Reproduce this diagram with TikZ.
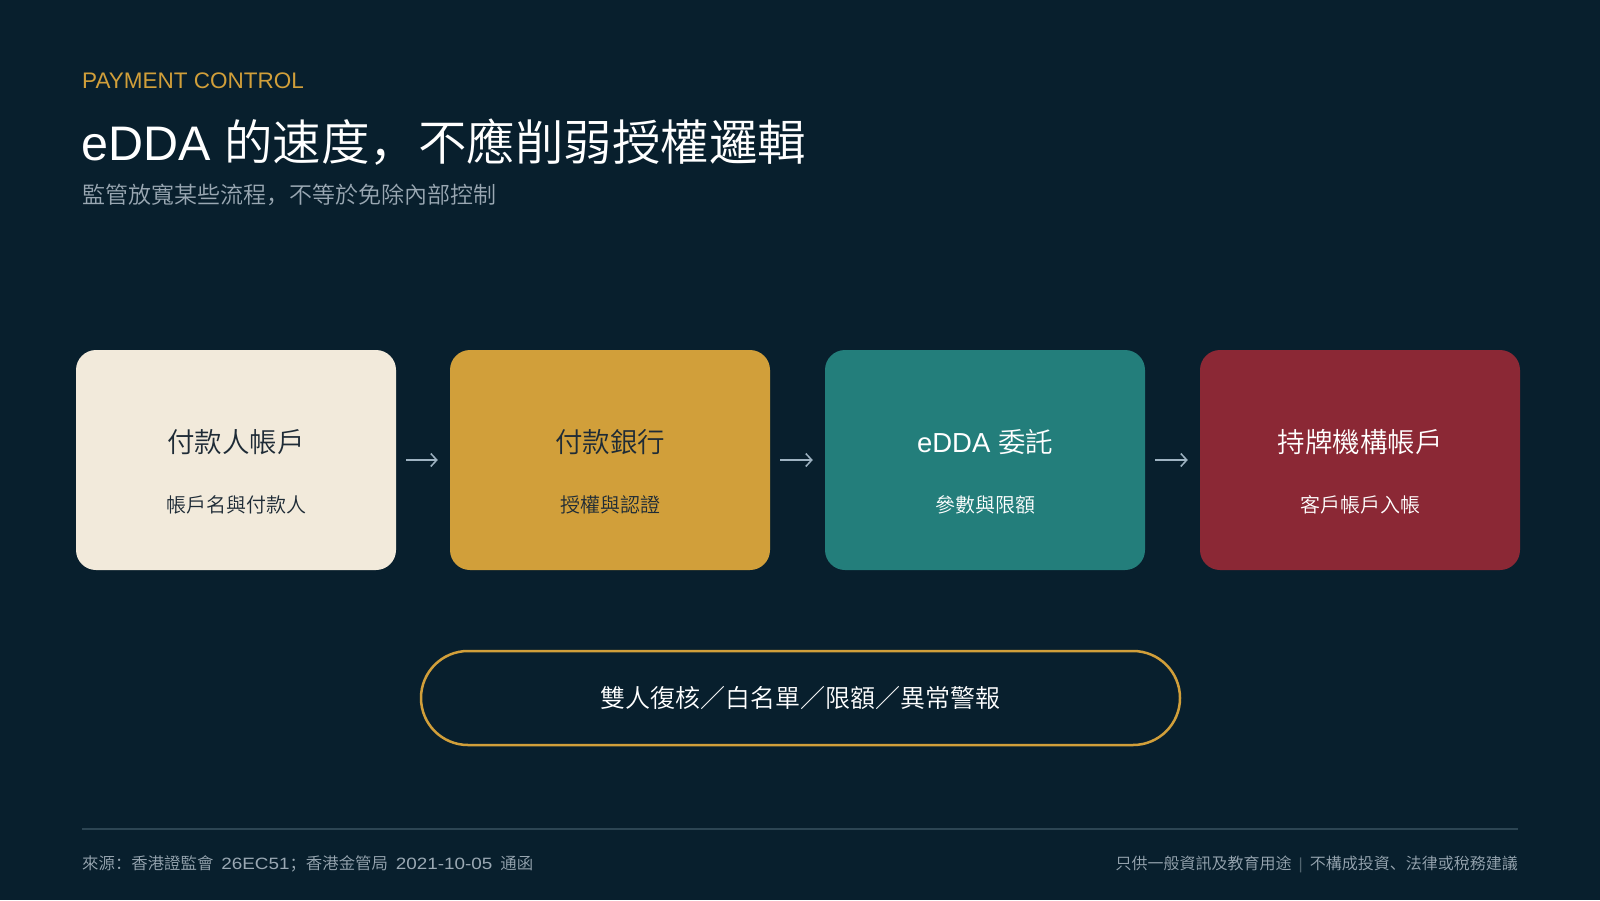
\documentclass[tikz,border=0pt]{standalone}
\usepackage{fontspec}
\IfFontExistsTF{Noto Sans CJK SC DemiLight}{\setmainfont{Noto Sans CJK SC DemiLight}}{%
  \IfFontExistsTF{Noto Sans CJK SC Light}{\setmainfont{Noto Sans CJK SC Light}}{\setmainfont{Noto Sans CJK SC}}}
\newfontfamily\lat{Liberation Sans}
\newfontfamily\latw{Liberation Sans}[FakeStretch=1.15]
\usetikzlibrary{arrows.meta}
\definecolor{bg}{HTML}{081F2D}
\definecolor{gold}{HTML}{D19F3A}
\definecolor{cream}{HTML}{F2EADB}
\definecolor{teal}{HTML}{237E7B}
\definecolor{wine}{HTML}{8B2835}
\definecolor{ink}{HTML}{1E2B36}
\definecolor{mist}{HTML}{9AA8B3}
\definecolor{arrowc}{HTML}{9FB3C2}
\definecolor{rule}{HTML}{2C4553}
\definecolor{barc}{HTML}{51646F}
\tikzset{
  card/.style={rectangle, rounded corners=20pt, minimum width=320pt, minimum height=220pt, inner sep=0pt},
  cardtitle/.style={inner sep=0pt, font=\fontsize{27.5}{32}\selectfont},
  cardsub/.style={inner sep=0pt, font=\fontsize{20}{24}\selectfont},
  flow/.style={draw=arrowc, line width=1.5pt, -{Straight Barb[length=6pt,width=13pt,line width=1.5pt]}, shorten <=10pt, shorten >=12pt},
  foot/.style={inner sep=0pt, text=mist, font=\fontsize{16}{20}\selectfont}
}
\begin{document}
\begin{tikzpicture}[x=1pt,y=-1pt]
\fill[bg] (0,0) rectangle (1600,900);
\useasboundingbox (0,0) rectangle (1600,900);

\node[anchor=west, inner sep=0pt, text=gold, font=\lat\fontsize{22.5}{26}\selectfont] (kicker) at (82,81) {PAYMENT CONTROL};
\node[anchor=west, inner sep=0pt, text=white, font=\fontsize{48.5}{56}\selectfont] (title) at (81,142) {{\lat eDDA }的速度，不應削弱授權邏輯};
\node[anchor=west, inner sep=0pt, text=mist, font=\fontsize{23}{28}\selectfont] (subtitle) at (82,195) {監管放寬某些流程，不等於免除內部控制};

\node[card, fill=cream] (b1) at (236,460) {};
\node[card, fill=gold] (b2) at (610,460) {};
\node[card, fill=teal] (b3) at (985,460) {};
\node[card, fill=wine] (b4) at (1360,460) {};

\node[cardtitle, text=ink] (b1t) at (236,442) {付款人帳戶};
\node[cardsub, text=ink] (b1s) at (236,505) {帳戶名與付款人};
\node[cardtitle, text=ink] (b2t) at (610,442) {付款銀行};
\node[cardsub, text=ink] (b2s) at (610,505) {授權與認證};
\node[cardtitle, text=white] (b3t) at (985,442) {{\lat eDDA }委託};
\node[cardsub, text=white] (b3s) at (985,505) {參數與限額};
\node[cardtitle, text=white] (b4t) at (1360,442) {持牌機構帳戶};
\node[cardsub, text=white] (b4s) at (1360,505) {客戶帳戶入帳};

\draw[flow] (b1.east) -- (b2.west);
\draw[flow] (b2.east) -- (b3.west);
\draw[flow] (b3.east) -- (b4.west);

\node[rectangle, draw=gold, line width=2.5pt, rounded corners=47pt, minimum width=759pt, minimum height=94pt, text=white, font=\fontsize{25}{30}\selectfont] (controls) at (800.5,698) {雙人復核／白名單／限額／異常警報};

\coordinate (ruleL) at (82,828.5);
\coordinate (ruleR) at (1518,828.5);
\draw[rule, line width=2pt] (ruleL) -- (ruleR);

\node[foot, anchor=west, font=\fontsize{16.4}{20}\selectfont] (source) at (82,864) {來源：香港證監會\hspace{8pt}{\latw 26EC51}；香港金管局\hspace{8pt}{\latw 2021-10-05}\hspace{8pt}通函};
\node[foot, anchor=east] (disclaimer) at (1518,864) {只供一般資訊及教育用途\hspace{7pt}{\lat\color{barc}|}\hspace{7pt}不構成投資、法律或稅務建議};
\end{tikzpicture}
\end{document}
